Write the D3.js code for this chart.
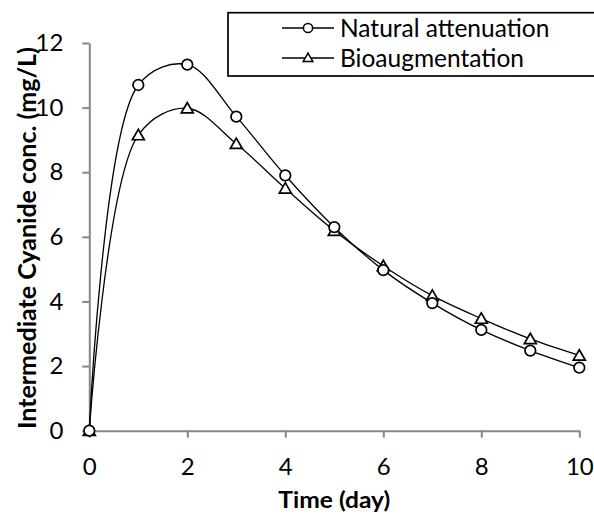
<!DOCTYPE html>
<html><head><meta charset="utf-8">
<script src="https://cdn.jsdelivr.net/npm/d3@7"></script>
<style>body{margin:0;background:#fff}svg{display:block}</style>
</head><body>
<svg id="c" width="594" height="516"></svg>
<script>
const days = [0,1,2,3,4,5,6,7,8,9,10];
const natural = [0,10.7,11.33,9.72,7.9,6.3,4.97,3.95,3.12,2.48,1.95];
const bio = [0,9.15,9.98,8.88,7.5,6.19,5.1,4.18,3.47,2.84,2.33];
const seriesNames = ["Natural attenuation","Bioaugmentation"];
const xTicks = [0,2,4,6,8,10];
const yTicks = [0,2,4,6,8,10,12];

const svg = d3.select("#c");
const font = "Lato, 'Open Sans', sans-serif";
const x = d3.scaleLinear().domain([0,10]).range([89.3,579.3]);
const y = d3.scaleLinear().domain([0,12]).range([430.7,43]);

const gx = svg.append("g").attr("transform","translate(0,430.7)")
  .call(d3.axisBottom(x).tickValues(xTicks).tickSize(7).tickPadding(20).tickSizeOuter(0));
const gy = svg.append("g").attr("transform","translate(89.3,0)")
  .call(d3.axisLeft(y).tickValues(yTicks).tickSize(7).tickPadding(19).tickSizeOuter(0));
[gx,gy].forEach(g=>{
  g.select(".domain").attr("stroke","#868686").attr("stroke-width",2);
  g.selectAll(".tick line").attr("stroke","#868686").attr("stroke-width",2);
  g.selectAll(".tick text").attr("font-family",font).attr("font-size",24).attr("fill","#000");
});

const line = d3.line().x((d,i)=>x(days[i])).y(d=>y(d)).curve(d3.curveCatmullRom.alpha(0.5));
[natural,bio].forEach(s=>{
  svg.append("path").attr("d",line(s)).attr("fill","none").attr("stroke","#000").attr("stroke-width",1.3);
});
const tri = d3.symbol().type(d3.symbolTriangle).size(62);
svg.append("g").selectAll("path").data(bio).join("path")
  .attr("d",tri).attr("transform",(d,i)=>`translate(${x(days[i])},${y(d)+1.2})`)
  .attr("fill","#fff").attr("stroke","#000").attr("stroke-width",1.7);
svg.append("g").selectAll("circle").data(natural).join("circle")
  .attr("cx",(d,i)=>x(days[i])).attr("cy",d=>y(d)).attr("r",5.3)
  .attr("fill","#fff").attr("stroke","#000").attr("stroke-width",1.7);

// axis titles
svg.append("text").attr("x",x(5)).attr("y",508).attr("text-anchor","middle")
  .attr("font-family",font).attr("font-weight","bold").attr("font-size",22)
  .attr("textLength",112).attr("lengthAdjust","spacingAndGlyphs").text("Time (day)");
svg.append("text").attr("transform","translate(35.5,238) rotate(-90)").attr("text-anchor","middle")
  .attr("font-family",font).attr("font-weight","bold").attr("font-size",24)
  .attr("textLength",382).attr("lengthAdjust","spacingAndGlyphs")
  .text("Intermediate Cyanide conc. (mg/L)");

// legend
const lg = svg.append("g");
lg.append("rect").attr("x",228).attr("y",12.7).attr("width",400).attr("height",63.3)
  .attr("fill","#fff").attr("stroke","#000").attr("stroke-width",1.7);
seriesNames.forEach((n,i)=>{
  const cy = 28 + i*30;
  lg.append("line").attr("x1",282).attr("x2",334).attr("y1",cy).attr("y2",cy).attr("stroke","#000").attr("stroke-width",1.3);
  if(i===0) lg.append("circle").attr("cx",308).attr("cy",cy).attr("r",4.6).attr("fill","#fff").attr("stroke","#000").attr("stroke-width",1.5);
  else lg.append("path").attr("d",d3.symbol().type(d3.symbolTriangle).size(40)).attr("transform",`translate(308,${cy+0.6})`).attr("fill","#fff").attr("stroke","#000").attr("stroke-width",1.5);
  lg.append("text").attr("x",340).attr("y",cy+8.6).attr("font-family",font).attr("font-size",24.5).text(n);
});
</script>
</body></html>
